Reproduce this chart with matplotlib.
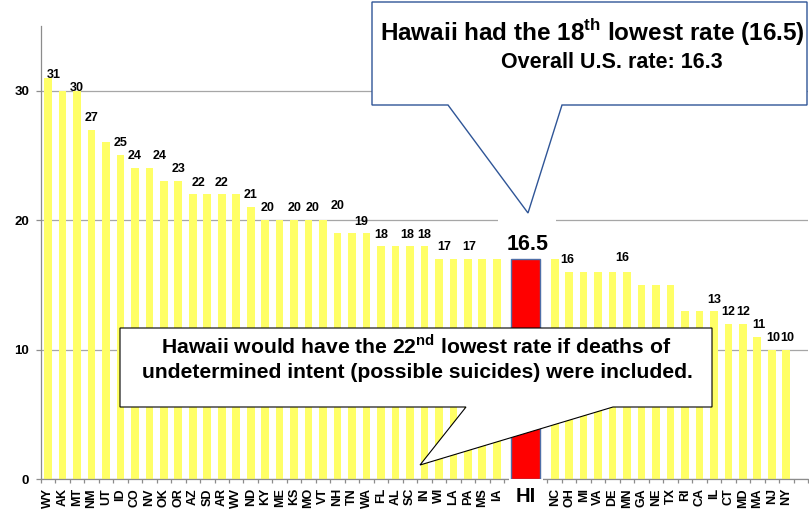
import matplotlib
matplotlib.use("Agg")
import matplotlib.pyplot as plt
from matplotlib.patches import Polygon, Rectangle

plt.rcParams['font.family'] = ['Liberation Sans', 'DejaVu Sans']
plt.rcParams['font.weight'] = 'bold'
plt.rcParams['mathtext.fontset'] = 'custom'
plt.rcParams['mathtext.rm'] = 'Liberation Sans:bold'
plt.rcParams['mathtext.bf'] = 'Liberation Sans:bold'

# ---------------- data ----------------
states = ["WY", "AK", "MT", "NM", "UT", "ID", "CO", "NV", "OK", "OR", "AZ", "SD", "AR",
          "WV", "ND", "KY", "ME", "KS", "MO", "VT", "NH", "TN", "WA", "FL", "AL", "SC",
          "IN", "WI", "LA", "PA", "MS", "IA", "HI", "NC", "OH", "MI", "VA", "DE", "MN",
          "GA", "NE", "TX", "RI", "CA", "IL", "CT", "MD", "MA", "NJ", "NY"]
rates = [31, 30, 30, 27, 26, 25, 24, 24, 23, 23, 22, 22, 22,
         22, 21, 20, 20, 20, 20, 20, 19, 19, 19, 18, 18, 18,
         18, 17, 17, 17, 17, 17, 17, 17, 16, 16, 16, 16, 16,
         15, 15, 15, 13, 13, 13, 12, 12, 11, 10, 10]
highlight = "HI"
highlight_label = "16.5"

label_states = ["WY", "MT", "NM", "ID", "CO", "NV", "OR", "AZ", "AR", "ND", "KY", "KS",
                "MO", "VT", "TN", "FL", "SC", "IN", "WI", "PA", "OH", "MN", "IL", "CT",
                "MD", "MA", "NJ", "NY"]
label_texts = ["31", "30", "27", "25", "24", "24", "23", "22", "22", "21", "20", "20",
               "20", "20", "19", "18", "18", "18", "17", "17", "16", "16", "13", "12",
               "12", "11", "10", "10"]
# label placement tweaks (slot units, pixels above bar)
label_dx = [0.4, 0, 0, 0, 0, 0.7, 0, 0.36, -0.05, 0, 0.15, 0,
            0.3, 1.0, 0.6, 0, -0.2, 0, 0.4, 0.1, -0.1, -0.3, 0, 0,
            0, 0.1, 0.1, 0.1]
label_dy = [0, 0, 9, 9, 9, 9, 9, 8, 8, 9, 9, 9,
            9, 11, 8, 8, 8, 8, 9, 9, 9, 11, 8, 9,
            9, 9, 9, 9]

callout_top_1 = r"Hawaii had the 18$^{\mathbf{th}}$ lowest rate (16.5)"
callout_top_2 = "Overall U.S. rate: 16.3"
callout_bot_1 = r"Hawaii would have the 22$^{\mathbf{nd}}$ lowest rate if deaths of"
callout_bot_2 = "undetermined intent (possible suicides) were included."

# ---------------- layout ----------------
W, H = 809, 512
fig = plt.figure(figsize=(W / 100, H / 100), dpi=100)
ax = fig.add_axes([40.8 / W, (H - 479) / H, (808 - 40.8) / W, (479 - 26) / H])

hi_idx = states.index(highlight)
pos = [i if i < hi_idx else (i + 1 if i == hi_idx else i + 2) for i in range(len(states))]

bar_colors = ["#FFFF66" if s != highlight else "#FF0000" for s in states]
for p, v, s, c in zip(pos, rates, states, bar_colors):
    if s == highlight:
        ax.bar(p, v, width=2.0, color=c, edgecolor="#4F6FA8", linewidth=1.0, zorder=4)
    else:
        ax.bar(p, v, width=0.53, color=c, linewidth=0, zorder=2)

ax.set_xlim(-0.5, 52.5)
ax.set_ylim(0, 35)

# grid & spines
ax.set_yticks([0, 10, 20, 30])
ax.yaxis.grid(True, color="#A6A6A6", linewidth=0.9)
ax.set_axisbelow(True)
for sp in ["top", "right"]:
    ax.spines[sp].set_visible(False)
for sp in ["left", "bottom"]:
    ax.spines[sp].set_color("#8C8C8C")
    ax.spines[sp].set_linewidth(0.9)

ax.tick_params(axis="y", length=3.4, width=0.9, color="#8C8C8C", pad=5, labelsize=9.5)
for t in ax.get_yticklabels():
    t.set_fontweight("bold")

ax.set_xticks(pos)
ax.set_xticklabels([s if s != highlight else "" for s in states], rotation=90,
                   fontsize=9, fontweight="bold")
ax.tick_params(axis="x", which="major", length=0, pad=6.5)
ax.set_xticks([k + 0.5 for k in range(-1, 53)], minor=True)
ax.tick_params(axis="x", which="minor", length=3.2, width=0.9, color="#8C8C8C")

# white patch hiding axis under the HI label, then the big HI label
ax.add_patch(Rectangle((pos[hi_idx] - 1.17, -0.07), 2.38, 0.072, transform=ax.get_xaxis_transform(),
                       facecolor="white", edgecolor="none", zorder=3, clip_on=False))
ax.annotate(highlight, (pos[hi_idx], 0), xytext=(0, -23 * 0.72), textcoords="offset points",
            ha="center", va="baseline", fontsize=14.5, fontweight="bold", zorder=6,
            annotation_clip=False)

# value labels
for s, txt, dx, dy in zip(label_states, label_texts, label_dx, label_dy):
    i = states.index(s)
    ax.annotate(txt, (pos[i] + dx, rates[i]), xytext=(0, dy * 0.72), textcoords="offset points",
                ha="center", va="baseline", fontsize=9, fontweight="bold", zorder=5)

# highlight value label with white background
ax.add_patch(Rectangle((31.1, 17.15), 4.0, 3.35, facecolor="white", edgecolor="none", zorder=3))
ax.annotate(highlight_label, (pos[hi_idx] + 0.1, rates[hi_idx]), xytext=(0, 9 * 0.72),
            textcoords="offset points", ha="center", va="baseline", fontsize=15.5,
            fontweight="bold", zorder=5)


def fx(x):
    return x / W


def fy(y):
    return 1 - y / H


def poly(points, **kw):
    p = Polygon([(fx(x), fy(y)) for x, y in points], closed=True, transform=fig.transFigure, **kw)
    fig.add_artist(p)


# top callout
B1 = 105
poly([(372, 2), (807, 2), (807, B1), (562, B1), (528, 213), (448, B1), (372, B1)],
     facecolor="white", edgecolor="#2F5597", linewidth=1.0, zorder=6)
fig.text(fx(592), fy(41.5), callout_top_1, ha="center", va="baseline", fontsize=17.5,
         fontweight="bold", zorder=7)
fig.text(fx(612), fy(68), callout_top_2, ha="center", va="baseline", fontsize=15.5,
         fontweight="bold", zorder=7)

# bottom callout
B2 = 407
poly([(120, 328), (712, 328), (712, B2), (613, B2), (420, 465), (466, B2), (120, B2)],
     facecolor="white", edgecolor="black", linewidth=0.8, zorder=6)
fig.text(fx(416), fy(353), callout_bot_1, ha="center", va="baseline", fontsize=15.2,
         fontweight="bold", zorder=7)
fig.text(fx(417), fy(378.5), callout_bot_2, ha="center", va="baseline", fontsize=15.2,
         fontweight="bold", zorder=7)

fig.savefig("out.png", dpi=100)
